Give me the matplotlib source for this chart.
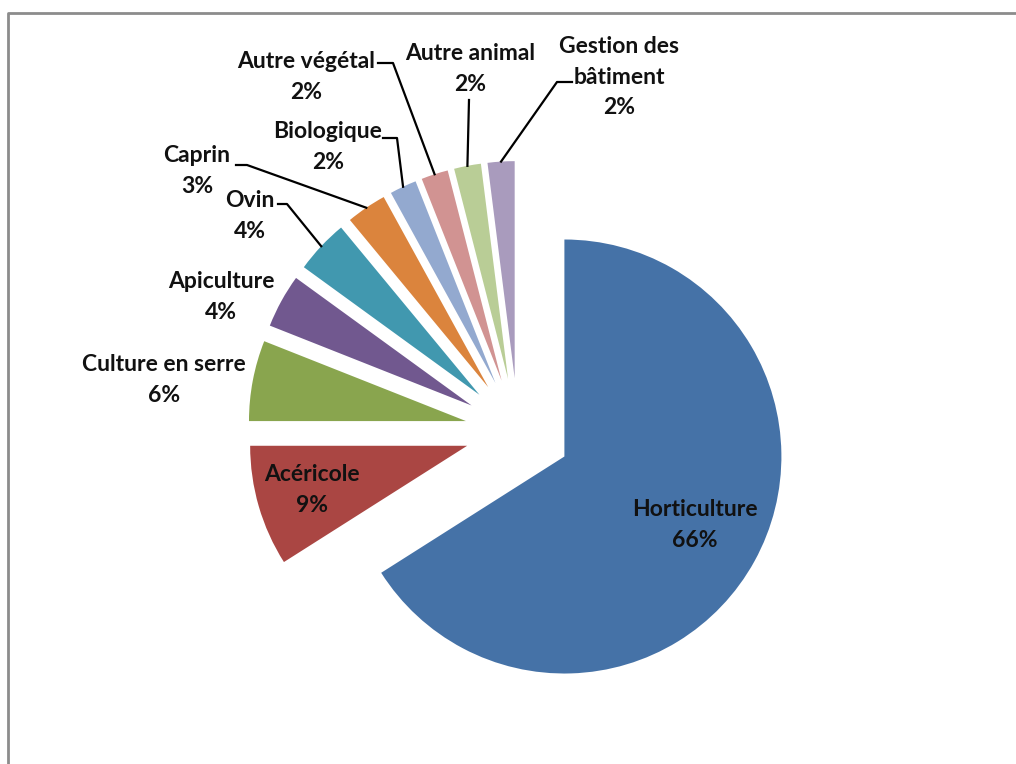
import matplotlib.pyplot as plt
import numpy as np

# data
labels = ["Horticulture", "Acéricole", "Culture en serre", "Apiculture", "Ovin",
          "Caprin", "Biologique", "Autre végétal", "Autre animal", "Gestion des\nbâtiment"]
shares = [66, 9, 6, 4, 4, 3, 2, 2, 2, 2]
colors = ["#4572A7", "#AA4643", "#89A54E", "#71588F", "#4198AF",
          "#DB843D", "#93A9CF", "#D19392", "#B9CD96", "#A99BBD"]

W, H = 1016, 764

def yy(y):
    # picture coords (y down) -> axes coords
    return H - y

# label block centres, picture coords
label_pos = [(695, 525), (312, 490), (164, 380), (221, 297), (250, 216),
             (197, 171), (328, 147), (306, 77), (470, 69), (619, 77)]
# leader lines: start point and elbow (None = straight)
leaders = {4: ((278, 204), (287, 204)),
           5: ((236, 165), (247, 165)),
           6: ((383, 138), (397, 138)),
           7: ((378, 63), (393, 63)),
           8: ((469, 100), None),
           9: ((572, 82), (557, 82))}

plt.rcParams['font.family'] = ['Lato', 'DejaVu Sans']

fig = plt.figure(figsize=(W / 100, H / 100), dpi=100)
ax = fig.add_axes([0, 0, 1, 1])

R = 217
# explode is in data units here (radius is in pixels)
wedges, _ = ax.pie(shares, colors=colors, startangle=90, counterclock=False,
                   explode=[0.244 * R] * len(shares), center=(518, yy(431)), radius=R,
                   wedgeprops=dict(linewidth=0))
ax.set_xlim(0, W)
ax.set_ylim(0, H)
ax.axis("off")

# frame of the chart area (only top/left visible)
ax.plot([8, 8, W + 5], [-5, yy(13), yy(13)], color="#8c8c8c", lw=2, solid_capstyle="butt")

for i, (lab, val) in enumerate(zip(labels, shares)):
    x, y = label_pos[i]
    ax.text(x, yy(y), f"{lab}\n{val}%", ha="center", va="center", multialignment="center",
            fontsize=16.5, fontweight="bold", color="#111111", linespacing=1.58)

for i, (start, elbow) in leaders.items():
    w = wedges[i]
    mid = np.deg2rad((w.theta1 + w.theta2) / 2)
    ex = w.center[0] + w.r * np.cos(mid)
    ey = w.center[1] + w.r * np.sin(mid)
    xs = [start[0]]
    ys = [yy(start[1])]
    if elbow is not None:
        xs.append(elbow[0])
        ys.append(yy(elbow[1]))
    xs.append(ex)
    ys.append(ey)
    ax.plot(xs, ys, color="black", lw=1.6)

fig.savefig("out.png", dpi=100)
